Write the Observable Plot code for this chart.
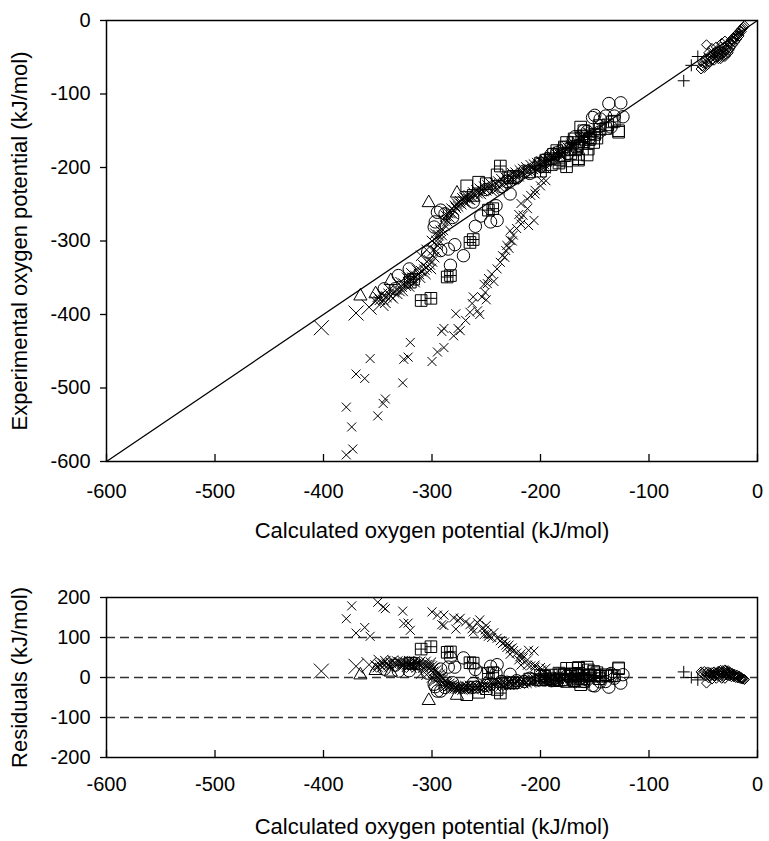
<!DOCTYPE html>
<html>
<head>
<meta charset="utf-8">
<script src="https://cdn.jsdelivr.net/npm/d3@7"></script>
<script src="https://cdn.jsdelivr.net/npm/@observablehq/plot@0.6"></script>
<style>
  html, body { margin: 0; padding: 0; background: #fff; }
  #chart { width: 769px; }
  #chart svg { display: block; }
</style>
</head>
<body>
<div id="chart"></div>
<script>
// ---------- axis / reference values ----------
const xTicks = [-600, -500, -400, -300, -200, -100, 0];
const yTicks = [-600, -500, -400, -300, -200, -100, 0];
const residualTicks = [-200, -100, 0, 100, 200];
const residualGuides = [100, 0, -100];
const identityLine = [-600, 0];
const xTitle = "Calculated oxygen potential (kJ/mol)";
const yTitleTop = "Experimental oxygen potential (kJ/mol)";
const yTitleBottom = "Residuals (kJ/mol)";

// ---------- data: [calculated, experimental] (kJ/mol) ----------
const diamondPts = [[-52,-66],[-51,-62],[-50,-58],[-49,-64],[-48,-52],[-47,-33],[-47,-58],[-46,-60],[-45,-44],[-45,-52],[-44,-56],[-44,-48],[-43,-50],[-42,-38],[-42,-54],[-41,-47],[-40,-54],[-40,-44],[-39,-43],[-39,-50],[-38,-36],[-37,-49],[-37,-42],[-36,-45],[-36,-52],[-35,-40],[-35,-48],[-34,-52],[-34,-36],[-33,-31],[-33,-46],[-32,-42],[-32,-49],[-31,-36],[-31,-44],[-30,-49],[-30,-28],[-29,-40],[-29,-46],[-28,-34],[-28,-38],[-27,-44],[-26,-30],[-26,-40],[-25,-37],[-25,-32],[-24,-26],[-23,-33],[-23,-28],[-22,-24],[-21,-29],[-21,-24],[-20,-20],[-19,-25],[-19,-21],[-18,-17],[-17,-21],[-17,-18],[-16,-14],[-15,-15],[-15,-12],[-14,-11],[-13,-9],[-12,-7]];

const plusPts = [[-68,-82],[-61,-61],[-55,-49]];

const bigXPts = [[-402,-418],[-370,-398],[-358,-390],[-347,-385]];

const smallXPts = [[-379,-591],[-373,-583],[-374,-553],[-379,-526],[-370,-481],[-362,-487],[-357,-460],[-350,-538],[-345,-521],[-343,-515],[-327,-493],[-326,-461],[-322,-458],[-320,-438],
  [-300,-464],[-295,-451],[-289,-445],[-291,-423],[-289,-419],[-280,-429],[-278,-399],[-276,-419],[-274,-422],[-269,-408],[-265,-397],[-263,-385],[-262,-376],[-258,-395],[-256,-400],[-254,-376],[-251,-370],[-250,-380],[-249,-358],[-252,-359],[-248,-351],[-245,-345],[-243,-355],[-240,-338],[-237,-329],[-235,-320],[-233,-322],[-232,-313],[-231,-306],[-229,-310],[-228,-299],[-226,-300],[-225,-292],[-228,-286],[-222,-283],[-219,-271],[-218,-277],[-216,-265],[-220,-264],[-218,-249],[-212,-256],[-211,-279],[-206,-272],[-212,-243],[-209,-238],[-205,-236],[-205,-231],[-200,-225],[-199,-218],[-195,-218],[-195,-202]];

const bandXPts = [[-352,-382],[-350,-376],[-348,-380],[-346,-372],[-345,-380],[-343,-384],[-342,-376],[-340,-372],[-339,-366],[-338,-375],[-336,-378],[-335,-370],[-333,-366],[-332,-372],[-330,-368],[-329,-356],[-328,-362],[-327,-368],[-326,-358],[-324,-361],[-323,-350],[-322,-356],[-321,-362],[-320,-352],[-319,-344],[-318,-350],[-316,-356],[-315,-348],[-314,-339],[-312,-345],[-311,-350],[-310,-341],[-310,-320],[-308,-333],[-307,-339],[-306,-345],[-305,-336],[-305,-312],[-303,-326],[-302,-332],[-301,-338],[-300,-328],[-300,-300],[-299,-313],[-298,-322],[-297,-290],[-296,-314],[-296,-300],[-295,-306],[-294,-292],[-293,-300],[-292,-286],[-291,-292],[-290,-285],[-289,-272],[-288,-279],[-287,-266],[-286,-273],[-285,-262],[-284,-268],[-283,-262],[-282,-256],[-281,-263],[-280,-258],[-279,-252],[-278,-255],[-277,-249],[-276,-253],[-275,-248],[-274,-246],[-273,-250],[-272,-242],[-271,-246],[-270,-241],[-269,-247],[-268,-239],[-267,-243],[-266,-238],[-265,-244],[-263,-240],[-262,-234],[-260,-239],[-259,-231],[-258,-235],[-256,-229],[-255,-236],[-253,-232],[-252,-226],[-250,-231],[-249,-224],[-248,-228],[-246,-222],
  [-245,-232],[-243,-230],[-242,-221],[-240,-229],[-239,-219],[-238,-226],[-236,-216],[-235,-224],[-233,-221],[-232,-214],[-230,-220],[-229,-211],[-228,-217],[-226,-208],[-225,-216],[-223,-207],[-222,-212],[-220,-212],[-219,-204],[-217,-208],[-216,-202],[-215,-208],[-213,-200],[-212,-205],[-210,-204],[-209,-197],[-207,-202],[-206,-196],[-205,-201],[-203,-194],[-202,-198],[-200,-197],[-199,-192],[-197,-195],[-196,-190],[-195,-191],[-193,-188],[-192,-191],[-190,-186],[-189,-185],[-187,-187],[-186,-181],[-185,-182],[-183,-179],[-182,-183],[-180,-177],[-179,-175],[-176,-176],[-175,-173],[-172,-170],[-171,-168],[-168,-169],[-167,-164],[-164,-161],[-163,-162],[-160,-161],[-159,-156],[-156,-153],[-155,-153],[-152,-152]];

const circlePts = [[-344,-365],[-334,-365],[-331,-347],[-321,-338],[-304,-315],[-298,-281],[-297,-274],[-295,-261],[-292,-258],[-292,-313],[-288,-263],[-285,-311],[-283,-333],[-281,-268],[-279,-305],[-271,-320],[-262,-247],[-260,-280],[-255,-266],[-250,-230],[-246,-274],[-241,-252],[-240,-272],[-236,-226],[-231,-219],[-228,-236],[-222,-214],[-215,-205],[-210,-208],[-202,-196],[-196,-190],[-190,-182],[-185,-180],[-179,-173],[-175,-181],[-168,-158],[-165,-170],[-160,-150],[-157,-151],[-155,-160],[-152,-132],[-150,-129],[-146,-152],[-145,-134],[-140,-130],[-137,-113],[-135,-145],[-132,-130],[-126,-112],[-124,-131]];

const squarePts = [[-268,-225],[-262,-238],[-257,-220],[-250,-222],[-240,-210],[-228,-214],[-210,-206],[-200,-194],[-196,-199],[-191,-188],[-190,-196],[-185,-177],[-182,-189],[-178,-172],[-176,-166],[-172,-181],[-172,-175],[-169,-161],[-166,-171],[-165,-188],[-163,-145],[-160,-157],[-160,-150],[-157,-183],[-154,-160],[-151,-166],[-148,-160],[-146,-143],[-140,-147],[-138,-142],[-134,-138],[-132,-137],[-128,-150],[-128,-152]];

const squarePlusPts = [[-320,-356],[-317,-352],[-310,-381],[-301,-378],[-286,-349],[-283,-347],[-265,-302],[-262,-298],[-248,-258],[-244,-256],[-237,-198],[-225,-212],[-200,-205],[-195,-190],[-188,-182],[-183,-194],[-178,-184],[-176,-199],[-170,-166],[-168,-176],[-165,-190],[-162,-158],[-160,-165],[-156,-175],[-155,-162],[-150,-155],[-145,-148]];

const trianglePts = [[-366,-374],[-352,-371],[-338,-353],[-303,-247],[-277,-234]];

// ---------- marker shapes (style only) ----------
const times = h => ({draw(c) { c.moveTo(-h, -h); c.lineTo(h, h); c.moveTo(-h, h); c.lineTo(h, -h); }});
const SYM = {
  circle: {draw(c) { const r = 6.2; c.moveTo(r, 0); c.arc(0, 0, r, 0, 2 * Math.PI); c.closePath(); }},
  square: {draw(c) { const h = 5.8; c.moveTo(-h, -h); c.lineTo(h, -h); c.lineTo(h, h); c.lineTo(-h, h); c.closePath(); }},
  squarePlus: {draw(c) { const h = 5.8; c.moveTo(-h, -h); c.lineTo(h, -h); c.lineTo(h, h); c.lineTo(-h, h); c.closePath(); c.moveTo(0, -h); c.lineTo(0, h); c.moveTo(-h, 0); c.lineTo(h, 0); }},
  triangle: {draw(c) { c.moveTo(0, -7); c.lineTo(6.6, 4.6); c.lineTo(-6.6, 4.6); c.closePath(); }},
  diamond: {draw(c) { const h = 5; c.moveTo(0, -h); c.lineTo(h, 0); c.lineTo(0, h); c.lineTo(-h, 0); c.closePath(); }},
  plus: {draw(c) { const h = 6; c.moveTo(-h, 0); c.lineTo(h, 0); c.moveTo(0, -h); c.lineTo(0, h); }},
  bigX: times(7.5),
  smallX: times(4.5),
  bandX: times(5.2)
};

const series = [
  {pts: diamondPts, sym: SYM.diamond},
  {pts: plusPts, sym: SYM.plus},
  {pts: circlePts, sym: SYM.circle},
  {pts: squarePts, sym: SYM.square},
  {pts: squarePlusPts, sym: SYM.squarePlus},
  {pts: trianglePts, sym: SYM.triangle},
  {pts: bandXPts, sym: SYM.bandX},
  {pts: smallXPts, sym: SYM.smallX},
  {pts: bigXPts, sym: SYM.bigX}
];

const fmt = d => String(d);
const font = "'Liberation Sans', Arial, Helvetica, sans-serif";

const topDots = series.map(s => Plot.dot(s.pts, {
  x: d => d[0], y: d => d[1], symbol: s.sym, r: 4, fill: "none", stroke: "black", strokeWidth: 1, clip: true
}));
const residualDots = series.map(s => Plot.dot(s.pts, {
  x: d => d[0], y: d => d[0] - d[1], symbol: s.sym, r: 4, fill: "none", stroke: "black", strokeWidth: 1, clip: true
}));

const topChart = Plot.plot({
  width: 769, height: 548,
  marginLeft: 106, marginRight: 12, marginTop: 20, marginBottom: 87,
  style: {fontFamily: font, fontSize: "20px", color: "black", background: "white", overflow: "visible"},
  x: {domain: [-600, 0], label: null},
  y: {domain: [-600, 0], label: null},
  marks: [
    Plot.line(identityLine, {x: d => d, y: d => d, stroke: "black", strokeWidth: 1.3}),
    ...topDots,
    Plot.tickX(xTicks, {x: d => d, insetTop: 434, stroke: "black", strokeWidth: 1.3}),
    Plot.frame({stroke: "black", strokeWidth: 1.5}),
    Plot.axisX(xTicks, {tickSize: 0, tickPadding: 22, tickFormat: fmt, label: null}),
    Plot.axisY(yTicks, {tickSize: 6, tickPadding: 10, tickFormat: fmt, label: null, strokeWidth: 1.3}),
    Plot.axisX([], {label: xTitle, labelAnchor: "center", labelArrow: "none", labelOffset: 76, fontSize: 22}),
    Plot.axisY([], {label: yTitleTop, labelAnchor: "center", labelArrow: "none", labelOffset: 95, fontSize: 22})
  ]
});

const bottomChart = Plot.plot({
  width: 769, height: 293,
  marginLeft: 106, marginRight: 12, marginTop: 49, marginBottom: 84,
  style: {fontFamily: font, fontSize: "20px", color: "black", background: "white", overflow: "visible"},
  x: {domain: [-600, 0], label: null},
  y: {domain: [-200, 200], label: null},
  marks: [
    Plot.ruleY(residualGuides, {y: d => d, stroke: "#333", strokeWidth: 1.3, strokeDasharray: "9,5"}),
    ...residualDots,
    Plot.tickX(xTicks, {x: d => d, insetTop: 153, stroke: "black", strokeWidth: 1.3}),
    Plot.frame({stroke: "black", strokeWidth: 1.5}),
    Plot.axisX(xTicks, {tickSize: 0, tickPadding: 19, tickFormat: fmt, label: null}),
    Plot.axisY(residualTicks, {tickSize: 6, tickPadding: 10, tickFormat: fmt, label: null, strokeWidth: 1.3}),
    Plot.axisX([], {label: xTitle, labelAnchor: "center", labelArrow: "none", labelOffset: 76, fontSize: 22}),
    Plot.axisY([], {label: yTitleBottom, labelAnchor: "center", labelArrow: "none", labelOffset: 95, fontSize: 22})
  ]
});

const root = document.getElementById("chart");
root.appendChild(topChart);
root.appendChild(bottomChart);
</script>
</body>
</html>
